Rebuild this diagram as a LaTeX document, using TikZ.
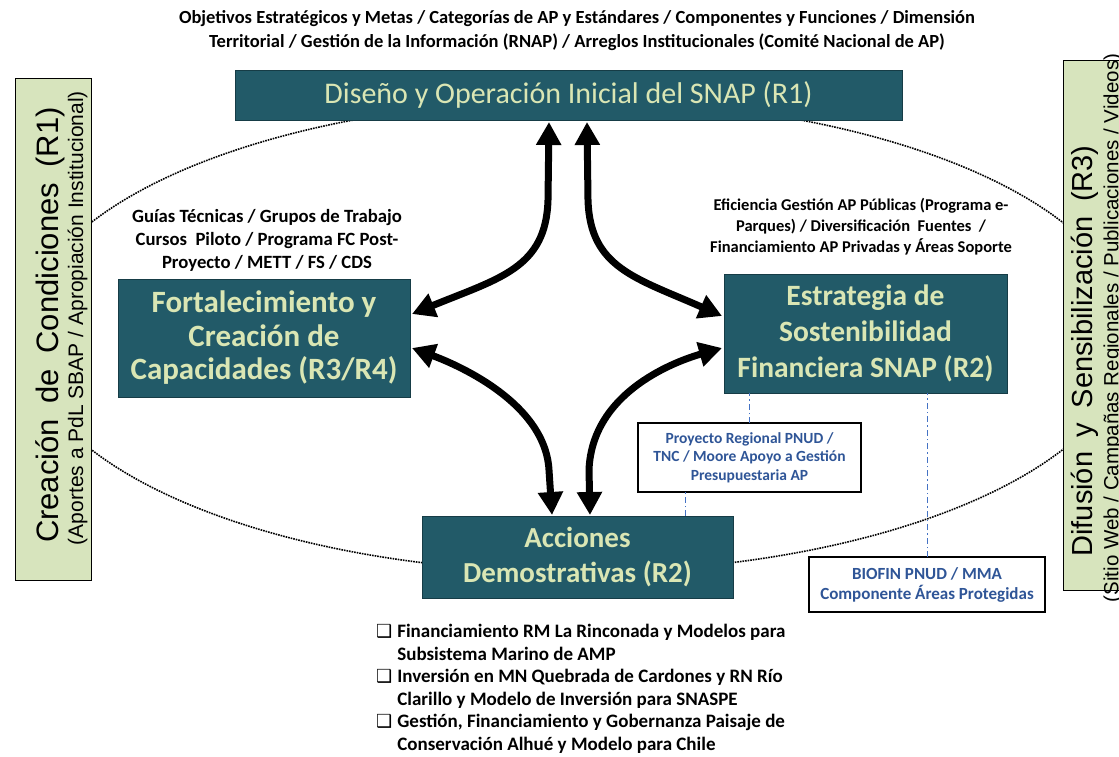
\documentclass[tikz,border=0pt]{standalone}
\usepackage{fontspec}
\setmainfont{Carlito}
\newfontfamily\arialf{Liberation Sans}
\newfontfamily\dejavu{DejaVu Sans}
\usetikzlibrary{arrows.meta}
\definecolor{tealfill}{RGB}{34,90,104}
\definecolor{tealedge}{RGB}{22,60,70}
\definecolor{tealtext}{RGB}{218,230,180}
\definecolor{greenfill}{RGB}{215,228,189}
\definecolor{bluetext}{RGB}{47,85,151}
\definecolor{bluedash}{RGB}{68,114,196}
\tikzset{
 tealbox/.style={draw=tealedge, line width=1pt, fill=tealfill, text=tealtext, inner sep=0pt, outer sep=0pt, align=center, anchor=north},
 greenbox/.style={draw=black, line width=1pt, fill=greenfill, inner sep=0pt, outer sep=0pt},
 infobox/.style={draw=black, line width=1.2pt, fill=white, text=bluetext, align=center, inner sep=0pt, outer sep=0pt},
 note/.style={align=center, inner sep=0pt},
 sidetext/.style={rotate=90, inner sep=0pt},
 bigarrow/.style={line width=7pt, {Triangle[length=23pt,width=24pt]}-{Triangle[length=23pt,width=24pt]}},
 linkdash/.style={bluedash, line width=1pt, dash pattern=on 6pt off 3pt on 1.5pt off 3pt},
 orbit/.style={line width=1.6pt, densely dotted}
}
\newcommand{\boxglyph}{{\dejavu\fontsize{18}{18}\selectfont ❑}}
\begin{document}
\begin{tikzpicture}[x=1pt,y=-1pt]
\clip (0,0) rectangle (1119,756);
\fill[white] (0,0) rectangle (1119,756);
% orbit ellipse
\draw[orbit] (577,336) ellipse [x radius=554, y radius=236];

% side boxes
\node[greenbox, minimum width=76pt, minimum height=502pt] (cond) at (53,329) {};
\node[sidetext, font=\arialf\fontsize{31}{31}\selectfont] (condt) at (50,325) {\spaceskip=0.5em Creación de Condiciones (R1)};
\node[sidetext, font=\arialf\fontsize{21}{21}\selectfont] (conds) at (77.5,318) {(Aportes a PdL SBAP / Apropiación Institucional)};

\node[greenbox, minimum width=88pt, minimum height=530pt] (dif) at (1107,325) {};
\node[sidetext, font=\arialf\fontsize{29}{29}\selectfont] (dift) at (1085,351) {\spaceskip=0.5em Difusión y Sensibilización (R3)};
\node[sidetext, font=\arialf\fontsize{20.5}{20.5}\selectfont] (difs) at (1113,328) {(Sitio Web / Campañas Regionales / Publicaciones / Videos)};

% main boxes
\node[tealbox, minimum width=667pt, minimum height=50pt, font=\fontsize{30}{36}\selectfont] (r1) at (568.5,70) {Diseño y Operación Inicial del SNAP (R1)};
\node[tealbox, minimum width=292pt, minimum height=118pt, font=\bfseries\fontsize{31}{33.5}\selectfont] (fort) at (264,279) {Fortalecimiento y\\Creación de\\Capacidades (R3/R4)};
\node[tealbox, minimum width=283pt, minimum height=119pt, font=\bfseries\fontsize{29.5}{36}\selectfont] (estr) at (865.5,274) {Estrategia de\\Sostenibilidad\\Financiera SNAP (R2)};
\node[tealbox, minimum width=311pt, minimum height=82pt, font=\bfseries\fontsize{29}{35}\selectfont] (acc) at (577.5,516) {Acciones\\Demostrativas (R2)};

% info boxes
\node[infobox, minimum width=223pt, minimum height=69pt, font=\bfseries\fontsize{15.5}{18.5}\selectfont] (proy) at (749.5,457.5) {Proyecto Regional PNUD /\\TNC / Moore Apoyo a Gestión\\Presupuestaria AP};
\node[infobox, minimum width=236pt, minimum height=55pt, font=\bfseries\fontsize{17}{20}\selectfont] (bio) at (927,584.5) {BIOFIN PNUD / MMA\\Componente Áreas Protegidas};

% dash-dot links
\coordinate (dlow) at ([xshift=-48pt]acc.north east);
\draw[linkdash] (proy.north) -- (proy.north |- estr.south);
\draw[linkdash] (dlow) -- (dlow |- proy.south);
\draw[linkdash] (bio.north) -- (bio.north |- estr.south);

% notes
\node[note, font=\bfseries\fontsize{18.5}{24}\selectfont] (topnote) at (577,31) {Objetivos Estratégicos y Metas / Categorías de AP y Estándares / Componentes y Funciones / Dimensión\\Territorial / Gestión de la Información (RNAP) / Arreglos Institucionales (Comité Nacional de AP)};
\node[note, font=\bfseries\fontsize{18.7}{23}\selectfont] (guias) at (267,240) {Guías Técnicas / Grupos de Trabajo\\Cursos\ \ Piloto / Programa FC Post-\\Proyecto / METT / FS / CDS};
\node[note, font=\bfseries\fontsize{16.5}{21}\selectfont] (efic) at (861,227) {Eficiencia Gestión AP Públicas (Programa e-\\Parques) / Diversificación\ \ Fuentes\ \ /\\Financiamiento AP Privadas y Áreas Soporte};
\node[anchor=north west, inner sep=0pt, font=\bfseries\fontsize{19}{22.5}\selectfont] (lista) at (376,622) {%
\begin{tabular}{@{}l@{\hspace{5pt}}l@{}}
\boxglyph & Financiamiento RM La Rinconada y Modelos para\\
 & Subsistema Marino de AMP\\
\boxglyph & Inversión en MN Quebrada de Cardones y RN Río\\
 & Clarillo y Modelo de Inversión para SNASPE\\
\boxglyph & Gestión, Financiamiento y Gobernanza Paisaje de\\
 & Conservación Alhué y Modelo para Chile
\end{tabular}};

% arrows
\draw[bigarrow] ([xshift=-19.5pt,yshift=-2pt]r1.south) -- (548,200) .. controls (546,268) and (500,278) .. ([xshift=2pt,yshift=24pt]fort.east);
\draw[bigarrow] ([xshift=18.5pt,yshift=-2pt]r1.south) -- (588,200) .. controls (590,268) and (636,278) .. ([xshift=-2pt,yshift=17.5pt]estr.west);
\draw[bigarrow] ([xshift=2pt,yshift=-10pt]fort.east) .. controls (450,362) and (545,400) .. (549,470) -- ([xshift=-25.5pt,yshift=1pt]acc.north);
\draw[bigarrow] ([xshift=-2pt,yshift=-14.5pt]estr.west) .. controls (680,360) and (592,390) .. (589,470) -- ([xshift=12.5pt,yshift=1pt]acc.north);
\end{tikzpicture}
\end{document}
